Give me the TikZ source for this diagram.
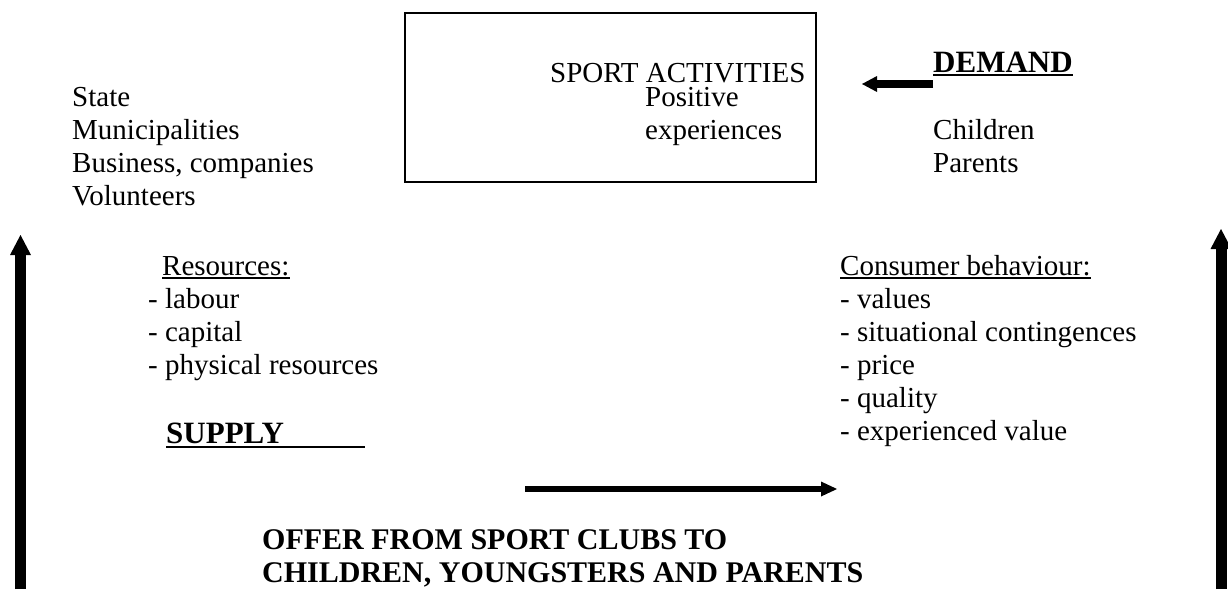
\documentclass[tikz,border=0pt]{standalone}
\usepackage{fontspec}
\setmainfont{Liberation Serif}
\usetikzlibrary{arrows.meta}

\begin{document}
\begin{tikzpicture}[x=1pt, y=-1pt,
	txt/.style={inner sep=0pt, anchor=base west, align=left, font=\fontsize{29}{33}\selectfont},
	head/.style={txt, font=\fontsize{31}{33}\selectfont\bfseries},
	ulin/.style={line width=1.5pt},
	fat/.style={line width=11pt, -{Triangle[length=20pt, width=21pt, line width=0pt]}},
	mid/.style={line width=7.5pt, -{Triangle[length=15pt, width=16pt, line width=0pt]}}
	]
	\useasboundingbox (0,0) rectangle (1228,589);

	% multi-line nodes sit on the baseline of their last line
	\node (box) [draw, line width=1.5pt, anchor=north west, inner sep=0pt, minimum width=411pt, minimum height=169pt] at (404,12) {};
	\node (sport) [txt] at (550,82) {SPORT ACTIVITIES};
	\node (positive) [txt] at (645,139) {Positive\\experiences};

	\node (funders) [txt] at (72,205) {State\\Municipalities\\Business, companies\\Volunteers};

	\node (demand) [head] at (933,72) {DEMAND};
		\node (users) [txt] at (933,172) {Children\\Parents};

	\node (resources) [txt] at (162,275) {Resources:};
		\node (reslist) [txt] at (148,374) {- labour\\- capital\\- physical resources};
	\node (supply) [head] at (166,443) {SUPPLY};

	\node (consumer) [txt] at (840,275) {Consumer behaviour:};
		\node (conslist) [txt] at (840,440) {- values\\- situational contingences\\- price\\- quality\\- experienced value};

	\node (offer) [head, font=\fontsize{30}{33}\selectfont\bfseries] at (262,582) {OFFER FROM SPORT CLUBS TO\\CHILDREN, YOUNGSTERS AND PARENTS};

	% underlined headings
	\draw [ulin] ([yshift=-3pt]resources.base west) -- ([yshift=-3pt]resources.base east);
	\draw [ulin] ([yshift=-3pt]consumer.base west) -- ([yshift=-3pt]consumer.base east);
	\draw [line width=2pt] ([yshift=-3pt]demand.base west) -- ([yshift=-3pt]demand.base east);
	\draw [line width=2pt] ([yshift=-4pt]supply.base west) -- ++(199,0);

	% arrows
	\coordinate (lfoot) at (20.5,589);
	\coordinate (ltip) at (20.5,235);
	\coordinate (rfoot) at (1221,589);
	\coordinate (rtip) at (1221,229);
	\coordinate (offerstart) at (525,489);
	\coordinate (offerend) at (837,489);

	\draw [fat] (lfoot) -- (ltip);
	\draw [fat] (rfoot) -- (rtip);
	\draw [mid] ([yshift=-12pt]demand.base west) -- ++(-71,0);
	\draw [line width=6pt, -{Triangle[length=16pt, width=15pt, line width=0pt]}] (offerstart) -- (offerend);
\end{tikzpicture}
\end{document}
